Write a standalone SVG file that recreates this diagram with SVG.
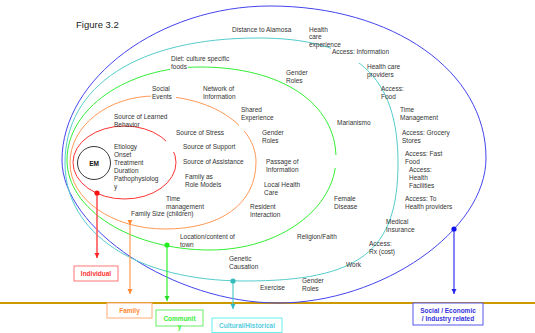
<svg xmlns="http://www.w3.org/2000/svg" width="535" height="333" viewBox="0 0 535 333">
<style>
  text { font-family: "Liberation Sans", Arial, sans-serif; }
  .lbl { font-size: 6.5px; fill: #333; }
  .ttl { font-size: 9.5px; fill: #222; }
  .ring { fill: none; stroke-width: 1; }
  .bg { fill: #fff; stroke: none; }
  .box { fill: #fff; stroke-width: 1; }
  .bl { font-size: 6.5px; font-weight: bold; text-anchor: middle; }
  .conn { fill: none; }
</style>
<defs>
  <marker id="ah-red" markerUnits="userSpaceOnUse" markerWidth="6" markerHeight="6" refX="5" refY="2.5" orient="auto"><path d="M0,0 L5,2.5 L0,5 z" fill="#FF2222"/></marker>
  <marker id="ah-orange" markerUnits="userSpaceOnUse" markerWidth="6" markerHeight="6" refX="5" refY="2.5" orient="auto"><path d="M0,0 L5,2.5 L0,5 z" fill="#FF8833"/></marker>
  <marker id="as-orange" markerUnits="userSpaceOnUse" markerWidth="6" markerHeight="6" refX="1" refY="2.5" orient="auto"><path d="M0,0 L5,2.5 L0,5 z" fill="#FF8833"/></marker>
  <marker id="ah-green" markerUnits="userSpaceOnUse" markerWidth="6" markerHeight="6" refX="5" refY="2.5" orient="auto"><path d="M0,0 L5,2.5 L0,5 z" fill="#22DD22"/></marker>
  <marker id="ah-cyan" markerUnits="userSpaceOnUse" markerWidth="6" markerHeight="6" refX="5" refY="2.5" orient="auto"><path d="M0,0 L5,2.5 L0,5 z" fill="#33BBCC"/></marker>
  <marker id="ah-blue" markerUnits="userSpaceOnUse" markerWidth="6" markerHeight="6" refX="5" refY="2.5" orient="auto"><path d="M0,0 L5,2.5 L0,5 z" fill="#2222EE"/></marker>
</defs>
<rect width="535" height="333" fill="#fff"/>

<text class="ttl" x="76" y="28">Figure 3.2</text>

<!-- horizon line -->
<line x1="0" y1="303" x2="535" y2="303" stroke="#CC9900" stroke-width="2"/>

<!-- rings -->
<g id="ring-social">
  <path class="ring" stroke="#4444EE" d="M62,160 C62,78.4 159.8,6 270,6 C393.1,6 486,71.4 486,158 C486,230.5 382,303 278,303 C174.3,303 62,228.6 62,160 Z"/>
</g>
<g id="ring-cultural">
  <path class="ring" stroke="#55CCCC" d="M65,163 C65,85.5 138.3,38 258,38 C356,38 398,75.5 398,163 C398,251.5 359.75,281 245,281 C137,281 65,233.8 65,163 Z"/>
</g>
<g id="ring-community">
  <path class="ring" stroke="#33EE33" d="M67,160 C67,108.8 126.8,67 200,67 C281.6,67 336,103.4 336,158 C336,208.6 279.3,250 210,250 C131.3,250 67,209.5 67,160 Z"/>
</g>
<g id="ring-family">
  <path class="ring" stroke="#FF9955" d="M70,163 C70,126 108.1,96 155,96 C210.8,96 256,125.6 256,162 C256,203.5 221.4,229 165,229 C112.6,229 70,199.4 70,163 Z"/>
</g>
<g id="ring-individual">
  <ellipse class="ring" stroke="#FF3333" cx="124.5" cy="162.5" rx="51.5" ry="36.5"/>
</g>
<g id="node-em">
  <circle cx="94" cy="163" r="16.5" fill="none" stroke="#222" stroke-width="0.9"/>
  <text x="94" y="165.5" font-size="6.5" font-weight="bold" text-anchor="middle" fill="#111">EM</text>
</g>

<!-- occluding text backgrounds -->
<g id="label-backgrounds">
  <rect class="bg" x="151" y="84" width="25" height="16"/>
  <rect class="bg" x="239" y="105" width="38" height="26"/>
  <rect class="bg" x="166" y="141" width="8" height="11"/>
  <rect class="bg" x="170" y="63" width="18" height="9"/>
  <rect class="bg" x="332" y="155" width="8" height="13"/>
  <rect class="bg" x="331" y="47" width="33" height="16"/>
</g>

<!-- labels: social / economic ring -->
<g id="labels-social" class="lbl">
  <text class="lbl" x="232" y="31.5">Distance to Alamosa</text>
  <text class="lbl" x="309" y="31.5">Health<tspan x="309" dy="7.8">care</tspan><tspan x="309" dy="7.8">experience</tspan></text>
  <text class="lbl" x="332" y="54">Access: Information</text>
  <text class="lbl" x="367" y="69">Health care<tspan x="367" dy="7.8">providers</tspan></text>
  <text class="lbl" x="381" y="91">Access:<tspan x="381" dy="7.8">Food</tspan></text>
  <text class="lbl" x="400" y="112">Time<tspan x="400" dy="7.8">Management</tspan></text>
  <text class="lbl" x="402" y="135">Access: Grocery<tspan x="402" dy="7.8">Stores</tspan></text>
  <text class="lbl" x="405" y="156">Access: Fast<tspan x="405" dy="7.8">Food</tspan></text>
  <text class="lbl" x="409" y="172">Access:<tspan x="409" dy="7.8">Health</tspan><tspan x="409" dy="7.8">Facilities</tspan></text>
  <text class="lbl" x="405" y="201">Access: To<tspan x="405" dy="7.8">Health providers</tspan></text>
  <text class="lbl" x="386" y="224">Medical<tspan x="386" dy="7.8">Insurance</tspan></text>
  <text class="lbl" x="369" y="246">Access:<tspan x="369" dy="7.8">Rx (cost)</tspan></text>
  <text class="lbl" x="346" y="267">Work</text>
  <text class="lbl" x="302" y="283">Gender<tspan x="302" dy="7.8">Roles</tspan></text>
  <text class="lbl" x="260" y="290">Exercise</text>
</g>

<!-- labels: cultural ring -->
<g id="labels-cultural">
  <text class="lbl" x="171" y="61">Diet: culture specific<tspan x="171" dy="7.8">foods</tspan></text>
  <text class="lbl" x="286" y="75">Gender<tspan x="286" dy="7.8">Roles</tspan></text>
  <text class="lbl" x="337" y="125">Marianismo</text>
  <text class="lbl" x="334" y="201">Female<tspan x="334" dy="7.8">Disease</tspan></text>
  <text class="lbl" x="297" y="239">Religion/Faith</text>
  <text class="lbl" x="229" y="261">Genetic<tspan x="229" dy="7.8">Causation</tspan></text>
</g>

<!-- labels: community ring -->
<g id="labels-community">
  <text class="lbl" x="152" y="91">Social<tspan x="152" dy="7.8">Events</tspan></text>
  <text class="lbl" x="203" y="91">Network of<tspan x="203" dy="7.8">Information</tspan></text>
  <text class="lbl" x="241" y="112">Shared<tspan x="241" dy="7.8">Experience</tspan></text>
  <text class="lbl" x="262" y="135">Gender<tspan x="262" dy="7.8">Roles</tspan></text>
  <text class="lbl" x="266" y="164">Passage of<tspan x="266" dy="7.8">Information</tspan></text>
  <text class="lbl" x="264" y="187">Local Health<tspan x="264" dy="7.8">Care</tspan></text>
  <text class="lbl" x="250" y="209">Resident<tspan x="250" dy="7.8">Interaction</tspan></text>
  <text class="lbl" x="180" y="239">Location/content of<tspan x="180" dy="7.8">town</tspan></text>
</g>

<!-- labels: family ring -->
<g id="labels-family">
  <text class="lbl" x="114" y="119">Source of Learned<tspan x="114" dy="7.5">Behavior</tspan></text>
  <text class="lbl" x="176" y="135">Source of Stress</text>
  <text class="lbl" x="183" y="149">Source of Support</text>
  <text class="lbl" x="183" y="164">Source of Assistance</text>
  <text class="lbl" x="185" y="179">Family as<tspan x="185" dy="7.8">Role Models</tspan></text>
  <text class="lbl" x="166" y="201">Time<tspan x="166" dy="7.8">management</tspan></text>
  <text class="lbl" x="131" y="216">Family Size (children)</text>
</g>

<!-- labels: individual ring -->
<g id="labels-individual">
  <text class="lbl" x="114" y="149">Etiology<tspan x="114" dy="7.9">Onset</tspan><tspan x="114" dy="7.9">Treatment</tspan><tspan x="114" dy="7.9">Duration</tspan><tspan x="114" dy="7.9">Pathophysiolog</tspan><tspan x="114" dy="7.9">y</tspan></text>
</g>

<!-- connectors -->
<g id="connectors">
  <line class="conn" x1="97" y1="193" x2="97" y2="258" stroke="#FF5555" stroke-width="1.6" marker-end="url(#ah-red)"/>
  <circle cx="97" cy="193" r="2.6" fill="#FF1111"/>
  <line class="conn" x1="130" y1="221" x2="130" y2="294" stroke="#FF9955" stroke-width="1.2" marker-start="url(#as-orange)" marker-end="url(#ah-orange)"/>
  <line class="conn" x1="167" y1="245" x2="167" y2="301" stroke="#33EE33" stroke-width="1.2" marker-end="url(#ah-green)"/>
  <circle cx="167" cy="245" r="2.6" fill="#22EE22"/>
  <line class="conn" x1="233" y1="281" x2="233" y2="309" stroke="#55CCCC" stroke-width="1.2" marker-end="url(#ah-cyan)"/>
  <circle cx="233" cy="281" r="2.6" fill="#33BBBB"/>
  <line class="conn" x1="454" y1="229" x2="454" y2="294" stroke="#3333EE" stroke-width="1.2" marker-end="url(#ah-blue)"/>
  <circle cx="454" cy="229" r="2.6" fill="#1111EE"/>
</g>

<!-- category boxes -->
<g id="box-individual">
  <rect class="box" x="74" y="266" width="44" height="15" stroke="#FF7777"/>
  <text class="bl" x="96" y="276" fill="#FF3333">Individual</text>
</g>
<g id="box-family">
  <rect class="box" x="107" y="303" width="45" height="15" stroke="#FFAA77"/>
  <text class="bl" x="129.5" y="313" fill="#FF8833">Family</text>
</g>
<g id="box-community">
  <rect class="box" x="156" y="310" width="47" height="16" stroke="#66EE66"/>
  <text class="bl" x="179.5" y="320.5" fill="#33EE33">Communit<tspan x="179.5" dy="8">y</tspan></text>
</g>
<g id="box-cultural">
  <rect class="box" x="212" y="318" width="70" height="14.5" stroke="#66EEEE"/>
  <text class="bl" x="247" y="328" fill="#55CCDD">Cultural/Historical</text>
</g>
<g id="box-social">
  <rect class="box" x="413" y="303" width="70" height="22" stroke="#5555EE"/>
  <text class="bl" x="448" y="313" fill="#3333DD">Social / Economic<tspan x="448" dy="8">/ Industry related</tspan></text>
</g>
</svg>
